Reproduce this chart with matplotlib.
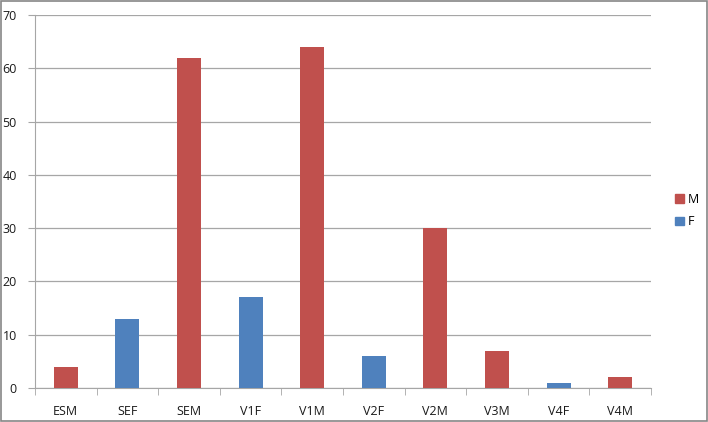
import matplotlib
matplotlib.use("Agg")
import matplotlib.pyplot as plt
from matplotlib.patches import Patch, Rectangle

categories = ["ESM", "SEF", "SEM", "V1F", "V1M", "V2F", "V2M", "V3M", "V4F", "V4M"]
values = [4, 13, 62, 17, 64, 6, 30, 7, 1, 2]
groups = ["M", "F", "M", "F", "M", "F", "M", "M", "F", "M"]
colors = {"M": "#C0504D", "F": "#4F81BD"}

plt.rcParams["font.family"] = ["Open Sans", "DejaVu Sans"]

fig = plt.figure(figsize=(7.08, 4.22), dpi=100)
fig.patches.append(Rectangle((0.001, 0.002), 0.997, 0.996, transform=fig.transFigure,
                             fill=False, edgecolor="#868686", linewidth=1.2))
ax = fig.add_axes([0.0494, 0.0806, 0.8701, 0.8839])

x = list(range(len(categories)))
ax.bar(x, values, width=0.39, color=[colors[g] for g in groups], zorder=3)

ax.set_xlim(-0.5, len(categories) - 0.5)
ax.set_ylim(0, 70)
ax.set_yticks(range(0, 71, 10))
ax.yaxis.grid(True, color="#A6A6A6", linewidth=0.9, zorder=0)
for s in ["top", "right"]:
    ax.spines[s].set_visible(False)
for s in ["left", "bottom"]:
    ax.spines[s].set_color("#A6A6A6")
ax.set_xticks(x)
ax.set_xticklabels(categories)
ax.set_xticks([i - 0.5 for i in range(len(categories) + 1)], minor=True)
ax.tick_params(axis="x", which="major", length=0, pad=12, labelsize=9, colors="#1a1a1a")
ax.tick_params(axis="x", which="minor", length=5, color="#A6A6A6")
ax.tick_params(axis="y", length=5, color="#A6A6A6", labelsize=9, colors="#1a1a1a", pad=8)

handles = [Patch(color=colors["M"], label="M"), Patch(color=colors["F"], label="F")]
fig.legend(handles=handles, loc="center left", bbox_to_anchor=(0.938, 0.501), frameon=False,
           fontsize=9, handlelength=0.7, handleheight=0.7, handletextpad=0.3, labelspacing=0.75)

fig.savefig("out.png", dpi=100)
